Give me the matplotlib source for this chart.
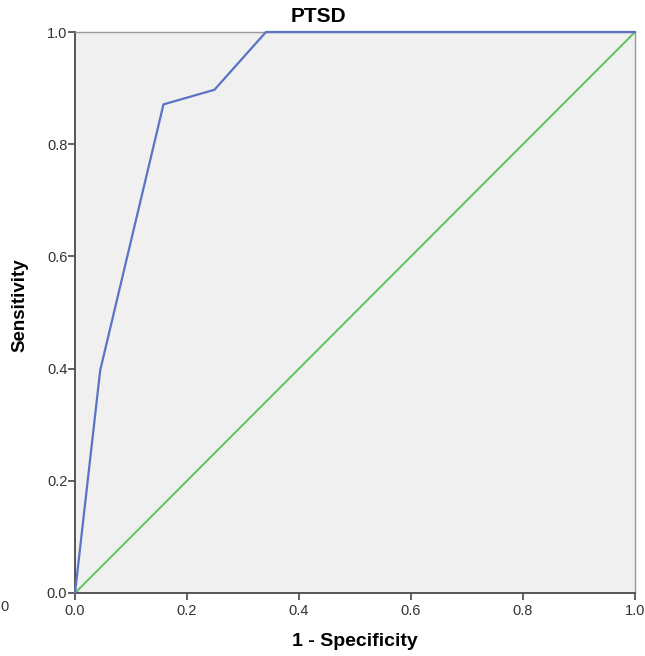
import matplotlib.pyplot as plt

plt.rcParams['font.family'] = ['Liberation Sans', 'DejaVu Sans']

# Dữ liệu đường ROC
fpr = [0.0, 0.045, 0.158, 0.249, 0.341, 1.0]
tpr = [0.0, 0.397, 0.871, 0.897, 1.0, 1.0]
ref_x = [0.0, 1.0]
ref_y = [0.0, 1.0]
ticks = [0.0, 0.2, 0.4, 0.6, 0.8, 1.0]
tick_labels = ['0.0', '0.2', '0.4', '0.6', '0.8', '1.0']

W, H = 645, 656
fig = plt.figure(figsize=(W / 100, H / 100), dpi=100)
ax = fig.add_axes([75 / W, 63 / H, 560 / W, 561 / H])
ax.set_facecolor('#f0f0f0')

ax.plot(ref_x, ref_y, color='#5cc45c', lw=1.4, zorder=2)
ax.plot(fpr, tpr, color='#5a73c6', lw=1.6, zorder=3, clip_on=False)

ax.set_xlim(0, 1)
ax.set_ylim(0, 1)
ax.set_xticks(ticks)
ax.set_xticklabels(tick_labels)
ax.set_yticks(ticks)
ax.set_yticklabels(tick_labels)
ax.tick_params(direction='out', length=5, width=1.2, colors='#444444',
               labelsize=10.5, labelcolor='#333333')
ax.tick_params(axis='x', pad=3)
ax.tick_params(axis='y', pad=0.5)

for s in ['left', 'bottom']:
    ax.spines[s].set_color('#555555')
    ax.spines[s].set_linewidth(1.4)
for s in ['top', 'right']:
    ax.spines[s].set_color('#999999')
    ax.spines[s].set_linewidth(1.0)

# Tiêu đề và nhãn trục
fig.text(318 / W, 1 - 16.5 / H, 'PTSD', fontsize=15, fontweight='bold',
         ha='center', va='center')
fig.text(355 / W, 1 - 641 / H, '1 - Specificity', fontsize=14,
         fontweight='bold', ha='center', va='center')
fig.text(20 / W, 1 - 305 / H, 'Sensitivity', fontsize=13.5,
         fontweight='bold', ha='center', va='center', rotation=90)

# số "0" lẻ ở mép trái
fig.text(0.001, 1 - 607 / H, '0', fontsize=10.5, color='#333333', va='center')

fig.savefig('out.png', dpi=100)
